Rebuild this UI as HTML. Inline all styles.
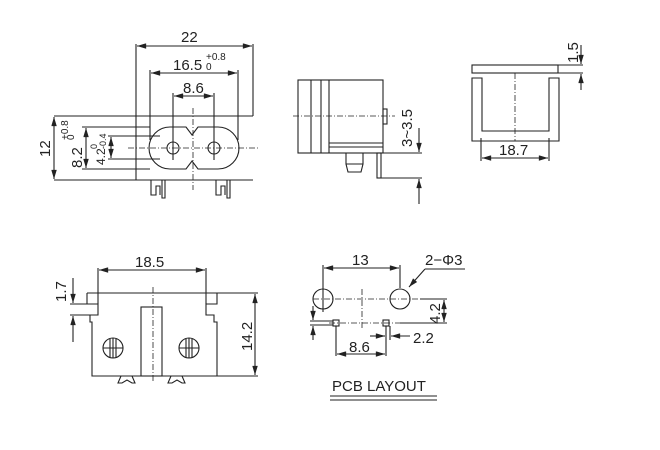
<!DOCTYPE html>
<html><head><meta charset="utf-8"><style>
html,body{margin:0;padding:0;background:#fff;}
svg{display:block;}
text{font-family:"Liberation Sans",Arial,sans-serif;fill:#222;}
</style></head><body>
<svg width="660" height="450" viewBox="0 0 660 450" xmlns="http://www.w3.org/2000/svg">
<defs>
<marker id="a" viewBox="0 0 10 6" refX="10" refY="3" markerWidth="9" markerHeight="5" orient="auto-start-reverse"><path d="M0,0 L10,3 L0,6 z" fill="#222"/></marker>
</defs>
<g stroke="#222" stroke-width="1.1" fill="none">
<line x1="54" y1="116" x2="253" y2="116"/>
<line x1="54" y1="180" x2="253" y2="180"/>
<line x1="136" y1="44" x2="136" y2="180"/>
<line x1="253" y1="44" x2="253" y2="116"/>
<line x1="137" y1="46" x2="252" y2="46" marker-start="url(#a)" marker-end="url(#a)"/>
<line x1="150" y1="70" x2="150" y2="140"/>
<line x1="238" y1="70" x2="238" y2="140"/>
<line x1="151" y1="73" x2="237" y2="73" marker-start="url(#a)" marker-end="url(#a)"/>
<line x1="173" y1="93" x2="173" y2="160"/>
<line x1="214" y1="93" x2="214" y2="160"/>
<line x1="174" y1="96" x2="213" y2="96" marker-start="url(#a)" marker-end="url(#a)"/>
<path d="M170,127 H186 L192,135 L198,127 H218 A21,21 0 0 1 218,169 H198 L192,161 L186,169 H170 A21,21 0 0 1 170,127 Z"/>
<circle cx="173" cy="148" r="6"/>
<circle cx="214" cy="148" r="6"/>
<line x1="193" y1="108" x2="193" y2="190" stroke-dasharray="6,2,1,2" stroke-width="0.8"/>
<line x1="128" y1="148" x2="258" y2="148" stroke-dasharray="6,2,1,2" stroke-width="0.8"/>
<line x1="54" y1="117" x2="54" y2="179" marker-start="url(#a)" marker-end="url(#a)"/>
<line x1="82" y1="127" x2="150" y2="127"/>
<line x1="82" y1="169" x2="150" y2="169"/>
<line x1="86" y1="128" x2="86" y2="168" marker-start="url(#a)" marker-end="url(#a)"/>
<line x1="108" y1="136" x2="160" y2="136"/>
<line x1="108" y1="159" x2="160" y2="159"/>
<line x1="111" y1="137" x2="111" y2="158" marker-start="url(#a)" marker-end="url(#a)"/>
<path d="M151,180 V195 H156 V186 H160 V195 M162,180 V198 H165 V180"/>
<path d="M216,180 V195 H221 V186 H225 V195 M227,180 V198 H230 V180"/>
<rect x="298" y="80" width="85" height="73"/>
<line x1="311" y1="80" x2="311" y2="153"/>
<line x1="321" y1="80" x2="321" y2="153"/>
<line x1="329" y1="80" x2="329" y2="153"/>
<line x1="329" y1="143" x2="383" y2="143"/>
<line x1="329" y1="147" x2="383" y2="147"/>
<rect x="383" y="109" width="4" height="15"/>
<line x1="293" y1="116" x2="395" y2="116" stroke-dasharray="6,2,1,2" stroke-width="0.8"/>
<path d="M346,153 V164 L348,172 H361 L363,164 V153 M346,164 H363"/>
<rect x="377" y="153" width="4" height="25"/>
<line x1="383" y1="153" x2="422" y2="153"/>
<line x1="381" y1="178" x2="422" y2="178"/>
<line x1="419" y1="128" x2="419" y2="152" marker-end="url(#a)"/>
<line x1="419" y1="204" x2="419" y2="179" marker-end="url(#a)"/>
<rect x="472" y="65" width="86" height="8"/>
<line x1="558" y1="65" x2="583" y2="65"/>
<line x1="558" y1="73" x2="583" y2="73"/>
<line x1="581" y1="45" x2="581" y2="64" marker-end="url(#a)"/>
<line x1="581" y1="90" x2="581" y2="74" marker-end="url(#a)"/>
<path d="M472,78 H482 V131 H549 V78 H559 V141 H472 Z"/>
<line x1="515" y1="73" x2="515" y2="141" stroke-dasharray="6,2,1,2" stroke-width="0.8"/>
<line x1="481" y1="138" x2="481" y2="161"/>
<line x1="549" y1="138" x2="549" y2="161"/>
<line x1="482" y1="158" x2="548" y2="158" marker-start="url(#a)" marker-end="url(#a)"/>
<line x1="87" y1="293" x2="258" y2="293"/>
<line x1="217" y1="376" x2="258" y2="376"/>
<path d="M87,293 V304 H98 V315 H90 V322 H92 V376 H217 V322 H214 V315 H206 V304 H217 V293"/>
<line x1="98" y1="268" x2="98" y2="304"/>
<line x1="206" y1="268" x2="206" y2="304"/>
<line x1="99" y1="270" x2="205" y2="270" marker-start="url(#a)" marker-end="url(#a)"/>
<line x1="255" y1="294" x2="255" y2="375" marker-start="url(#a)" marker-end="url(#a)"/>
<rect x="141" y="307" width="21" height="69"/>
<line x1="153" y1="287" x2="153" y2="382" stroke-dasharray="6,2,1,2" stroke-width="0.8"/>
<circle cx="113" cy="348" r="10"/>
<circle cx="189" cy="348" r="10"/>
<path d="M103,348 H123 M113,338 V358 M110,339 V357 M116,339 V357"/>
<path d="M179,348 H199 M189,338 V358 M186,339 V357 M192,339 V357"/>
<path d="M121,376 L118,383 H122 L127,380 L132,383 H135 L132,376"/>
<path d="M171,376 L168,383 H172 L177,380 L182,383 H185 L182,376"/>
<line x1="70" y1="304" x2="98" y2="304"/>
<line x1="70" y1="315" x2="90" y2="315"/>
<line x1="73" y1="278" x2="73" y2="303" marker-end="url(#a)"/>
<line x1="73" y1="342" x2="73" y2="316" marker-end="url(#a)"/>
<circle cx="323" cy="299" r="10"/>
<circle cx="400" cy="299" r="10"/>
<line x1="323" y1="265" x2="323" y2="312"/>
<line x1="400" y1="265" x2="400" y2="288"/>
<line x1="324" y1="268" x2="399" y2="268" marker-start="url(#a)" marker-end="url(#a)"/>
<line x1="313" y1="299" x2="420" y2="299" stroke-dasharray="6,2,1,2" stroke-width="0.8"/>
<line x1="362" y1="289" x2="362" y2="330" stroke-dasharray="6,2,1,2" stroke-width="0.8"/>
<line x1="465" y1="269" x2="425" y2="269"/>
<line x1="425" y1="269" x2="409" y2="287" marker-end="url(#a)"/>
<rect x="333" y="320" width="6" height="6"/>
<rect x="383" y="320" width="6" height="6"/>
<line x1="329" y1="323" x2="400" y2="323" stroke-dasharray="6,2,1,2" stroke-width="0.8"/>
<line x1="420" y1="299" x2="447" y2="299"/>
<line x1="400" y1="323" x2="447" y2="323"/>
<line x1="444" y1="300" x2="444" y2="322" marker-start="url(#a)" marker-end="url(#a)"/>
<line x1="336" y1="326" x2="336" y2="356"/>
<line x1="386" y1="326" x2="386" y2="356"/>
<line x1="337" y1="354" x2="385" y2="354" marker-start="url(#a)" marker-end="url(#a)"/>
<line x1="390" y1="326" x2="390" y2="340"/>
<line x1="370" y1="336" x2="385" y2="336" marker-end="url(#a)"/>
<line x1="410" y1="336" x2="391" y2="336" marker-end="url(#a)"/>
<line x1="310" y1="321" x2="333" y2="321"/>
<line x1="310" y1="325" x2="333" y2="325"/>
<line x1="313" y1="306" x2="313" y2="320" marker-end="url(#a)"/>
<line x1="313" y1="340" x2="313" y2="326" marker-end="url(#a)"/>
<line x1="330" y1="396" x2="437" y2="396"/>
<line x1="330" y1="400" x2="437" y2="400"/>
</g>
<g font-size="15">
<text x="181" y="42">22</text>
<text x="173" y="70">16.5</text>
<text x="206" y="60" font-size="10">+0.8</text>
<text x="206" y="70" font-size="10">0</text>
<text x="183" y="93">8.6</text>
<text transform="translate(50,157) rotate(-90)">12</text>
<text transform="translate(82,168) rotate(-90)">8.2</text>
<text transform="translate(74,140) rotate(-90)" font-size="10">0</text>
<text transform="translate(68,140) rotate(-90)" font-size="10">+0.8</text>
<text transform="translate(105,165) rotate(-90)" font-size="12">4.2</text>
<text transform="translate(97,149) rotate(-90)" font-size="9">0</text>
<text transform="translate(106,149) rotate(-90)" font-size="9">-0.4</text>
<text transform="translate(412,147) rotate(-90)">3~3.5</text>
<text transform="translate(578,63) rotate(-90)">1.5</text>
<text x="499" y="155">18.7</text>
<text x="135" y="267">18.5</text>
<text transform="translate(66,302) rotate(-90)">1.7</text>
<text transform="translate(252,351) rotate(-90)">14.2</text>
<text x="352" y="265">13</text>
<text x="425" y="265">2−Φ3</text>
<text transform="translate(440,324) rotate(-90)">4.2</text>
<text x="413" y="343">2.2</text>
<text x="349" y="352">8.6</text>
<text x="332" y="391" font-size="15">PCB LAYOUT</text>
</g>
</svg>
</body></html>
